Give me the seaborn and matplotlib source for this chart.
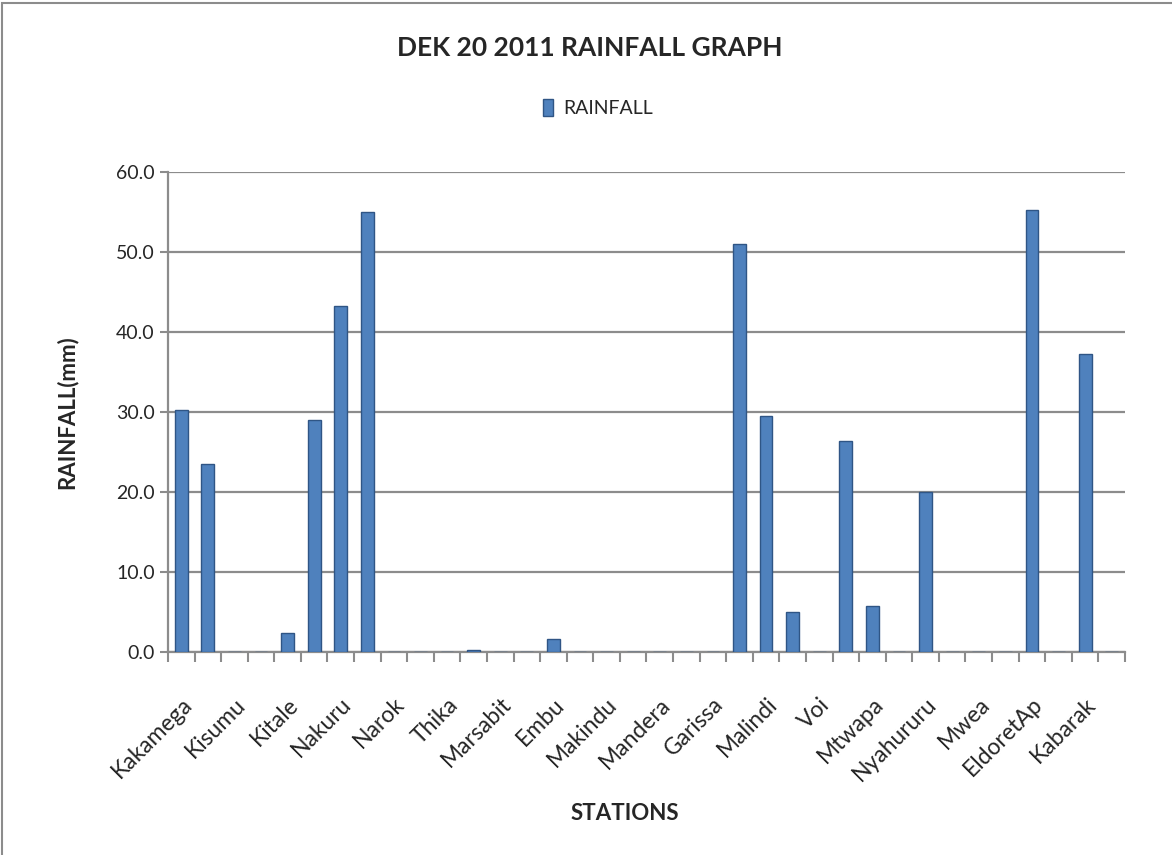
import matplotlib
matplotlib.use('Agg')
import matplotlib.pyplot as plt
import matplotlib.patches as mpatches
import numpy as np
import pandas as pd
import seaborn as sns

# every other station name is shown on the axis (as in the original)
shown_labels = ['Kakamega', 'Kisumu', 'Kitale', 'Nakuru', 'Narok', 'Thika',
                'Marsabit', 'Embu', 'Makindu', 'Mandera', 'Garissa', 'Malindi',
                'Voi', 'Mtwapa', 'Nyahururu', 'Mwea', 'EldoretAp', 'Kabarak']
rainfall = [30.3, 23.5, 0.0, 0.0, 2.4, 29.0, 43.3, 55.0, 0.0, 0.0, 0.0, 0.2,
            0.0, 0.0, 1.6, 0.0, 0.0, 0.0, 0.0, 0.0, 0.0, 51.0, 29.5, 5.0,
            0.0, 26.4, 5.8, 0.0, 20.0, 0.0, 0.0, 0.0, 55.2, 0.0, 37.2, 0.0]

df = pd.DataFrame({'idx': np.arange(len(rainfall)), 'RAINFALL': rainfall})

sns.set_style('white')
plt.rcParams['font.family'] = ['Lato', 'DejaVu Sans']

fig = plt.figure(figsize=(11.72, 8.55), dpi=100)
ax = fig.add_axes([0.1433, 0.2374, 0.8166, 0.5614])

sns.barplot(data=df, x='idx', y='RAINFALL', color='#4F81BD', width=0.48,
            edgecolor='#2F5585', linewidth=1.0, saturation=1, ax=ax, zorder=3)

ax.set_ylim(0, 60)
ax.set_xlim(-0.5, len(rainfall) - 0.5)
ax.set_yticks(np.arange(0, 61, 10))
ax.set_yticklabels([f'{v:.1f}' for v in np.arange(0, 61, 10)], fontsize=14)
ax.yaxis.grid(True, color='#8C8C8C', linewidth=1.6, zorder=0)
ax.set_axisbelow(True)

# labels on even categories, tick marks between categories
ax.set_xticks(np.arange(0, len(rainfall), 2))
ax.set_xticklabels(shown_labels, rotation=45, ha='right',
                   rotation_mode='anchor', fontsize=16.5)
ax.set_xticks(np.arange(-0.5, len(rainfall), 1), minor=True)
ax.tick_params(axis='x', which='major', length=0, pad=30)
ax.tick_params(axis='x', which='minor', length=7, color='#8C8C8C', width=1.5,
               bottom=True)
ax.tick_params(axis='y', length=6, color='#8C8C8C', width=1.5, left=True)

for s in ['top', 'right']:
    ax.spines[s].set_visible(False)
for s in ['left', 'bottom']:
    ax.spines[s].set_color('#8C8C8C')
    ax.spines[s].set_linewidth(1.6)

ax.set_xlabel('STATIONS', fontsize=16, fontweight='bold')
ax.xaxis.set_label_coords(0.477, -0.315)
ax.set_ylabel('RAINFALL(mm)', fontsize=16, fontweight='bold', labelpad=28)

fig.suptitle('DEK 20 2011 RAINFALL GRAPH', fontsize=19, fontweight='bold',
             x=0.503, y=0.958)

handle = mpatches.Patch(facecolor='#4F81BD', edgecolor='#2F5585')
fig.legend([handle], ['RAINFALL'], loc='center', bbox_to_anchor=(0.51, 0.874),
           frameon=False, fontsize=14, handlelength=0.55, handleheight=1.0,
           handletextpad=0.5)

fig.patches.append(mpatches.Rectangle((0.002, -0.01), 1.2, 1.007,
                                      transform=fig.transFigure, fill=False,
                                      edgecolor='#8C8C8C', linewidth=1.5))

plt.savefig('out.png', dpi=100)
